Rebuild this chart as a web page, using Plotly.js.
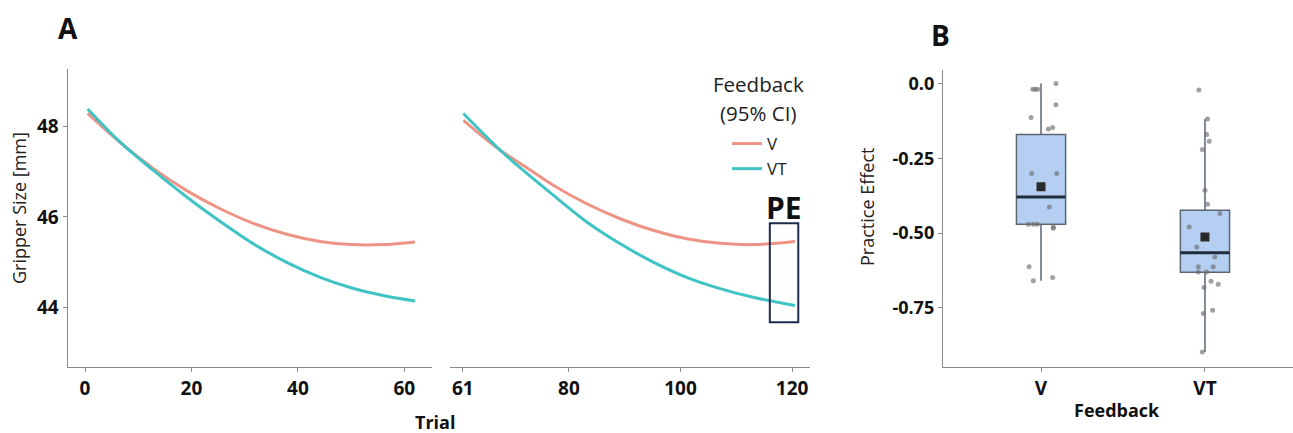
<!DOCTYPE html>
<html>
<head>
<meta charset="utf-8">
<script src="https://cdn.plot.ly/plotly-3.0.1.min.js"></script>
<style>html,body{margin:0;padding:0;background:#fff;}#chart{width:1293px;height:433px;}</style>
</head>
<body>
<div id="chart"></div>
<script>
// ---- Panel A: fitted gripper size over trials ----
const trialsBlock1 = [0.5, 6.6, 12.8, 19.1, 25.4, 31.6, 37.9, 44.2, 50, 56, 62];
const sizeV_block1 = [48.28, 47.64, 47.07, 46.58, 46.18, 45.86, 45.62, 45.46, 45.39, 45.39, 45.45];
const sizeVT_block1 = [48.38, 47.65, 47.03, 46.44, 45.90, 45.41, 45.00, 44.67, 44.44, 44.27, 44.15];

const trialsBlock2 = [61.1, 67.7, 71.3, 77.2, 83.2, 89.2, 95.2, 101.1, 107.1, 113, 120.5];
const sizeV_block2 = [48.13, 47.47, 47.18, 46.70, 46.29, 45.96, 45.70, 45.52, 45.42, 45.39, 45.46];
const sizeVT_block2 = [48.28, 47.47, 47.08, 46.48, 45.89, 45.41, 45.00, 44.67, 44.42, 44.23, 44.05];

const ticksBlock1 = [0, 20, 40, 60];
const ticksBlock2 = [61, 80, 100, 120];
const ticksSize = [44, 46, 48];

// ---- Panel B: practice effect boxplots ----
const groups = ['V', 'VT'];
const groupPos = [0, 1];
const q1 = [-0.471, -0.631];
const median = [-0.380, -0.566];
const q3 = [-0.171, -0.424];
const lowerWhisker = [-0.660, -0.898];
const upperWhisker = [0.0, -0.119];
const meanPE = [-0.345, -0.513];

const peV = [-0.019, -0.019, -0.019, 0.0, -0.071, -0.114, -0.152, -0.147, -0.301, -0.301, -0.413, -0.471, -0.471, -0.471, -0.480, -0.484, -0.613, -0.660, -0.649];
const jitterV = [-0.05, -0.035, -0.02, 0.091, 0.091, -0.061, 0.045, 0.071, -0.057, 0.096, 0.051, -0.077, -0.047, -0.023, 0.075, 0.075, -0.073, -0.047, 0.071];
const peVT = [-0.022, -0.119, -0.171, -0.193, -0.221, -0.357, -0.404, -0.435, -0.48, -0.547, -0.58, -0.613, -0.613, -0.630, -0.630, -0.682, -0.661, -0.671, -0.769, -0.758, -0.898];
const jitterVT = [-0.037, 0.016, 0.01, 0.026, -0.016, 0, 0.016, 0.091, -0.096, -0.05, 0.06, -0.04, 0.05, -0.041, 0.01, -0.006, 0.037, 0.081, -0.01, 0.047, -0.016];
const peTicks = [0, -0.25, -0.5, -0.75];
const peTickText = ['0.0', '-0.25', '-0.50', '-0.75'];

const colV = '#EE9486';
const colVT = '#3FC3C4';
const FONT = 'Open Sans, Noto Sans, sans-serif';
const boxWidth = 0.3;

function curve(x, y, name, color, xa, ya, legend) {
  return {x: x, y: y, type: 'scatter', mode: 'lines', name: name, legendgroup: name,
    line: {color: color, width: 3, shape: 'spline', smoothing: 1}, xaxis: xa, yaxis: ya, showlegend: legend};
}

const traces = [
  curve(trialsBlock1, sizeV_block1, 'V', colV, 'x', 'y', true),
  curve(trialsBlock1, sizeVT_block1, 'VT', colVT, 'x', 'y', true),
  curve(trialsBlock2, sizeV_block2, 'V', colV, 'x2', 'y2', false),
  curve(trialsBlock2, sizeVT_block2, 'VT', colVT, 'x2', 'y2', false),
  // jittered points
  {x: jitterV.map(j => groupPos[0] + j), y: peV, type: 'scatter', mode: 'markers', showlegend: false,
   marker: {color: 'rgba(110,110,110,0.65)', size: 5}, xaxis: 'x3', yaxis: 'y3'},
  {x: jitterVT.map(j => groupPos[1] + j), y: peVT, type: 'scatter', mode: 'markers', showlegend: false,
   marker: {color: 'rgba(110,110,110,0.65)', size: 5}, xaxis: 'x3', yaxis: 'y3'},
  // boxes
  {type: 'box', x: groupPos, q1: q1, median: median, q3: q3, lowerfence: lowerWhisker, upperfence: upperWhisker,
   width: boxWidth, whiskerwidth: 0, boxpoints: false, showlegend: false,
   fillcolor: 'rgba(165,196,240,0.82)', line: {color: '#5b6672', width: 1.5}, xaxis: 'x3', yaxis: 'y3', hoverinfo: 'skip'}
];
// thick median bars
groupPos.forEach((p, i) => {
  traces.push({x: [p - boxWidth / 2, p + boxWidth / 2], y: [median[i], median[i]], type: 'scatter', mode: 'lines',
    line: {color: '#1f2d3a', width: 3}, showlegend: false, xaxis: 'x3', yaxis: 'y3'});
});
traces.push({x: groupPos, y: meanPE, type: 'scatter', mode: 'markers', showlegend: false,
  marker: {symbol: 'square', size: 9, color: '#2a2a2a'}, xaxis: 'x3', yaxis: 'y3'});

const W = 1293, H = 433;
const px = v => v / W, py = v => 1 - v / H;
const axisCommon = {showline: true, linecolor: '#8c8c8c', linewidth: 1.5, ticks: 'outside', ticklen: 4,
  tickcolor: '#8c8c8c', showgrid: false, zeroline: false,
  tickfont: {family: FONT, size: 19, color: '#111', weight: 'bold'}};

const layout = {
  width: W, height: H,
  margin: {l: 0, r: 0, t: 0, b: 0},
  paper_bgcolor: '#fff', plot_bgcolor: 'rgba(0,0,0,0)',
  font: {family: FONT, color: '#222'},
  xaxis: Object.assign({}, axisCommon, {domain: [px(68), px(432)], range: [-3.2, 65.2], tickvals: ticksBlock1, anchor: 'y'}),
  yaxis: Object.assign({}, axisCommon, {domain: [py(366.7), py(69)], range: [42.7, 49.26], tickvals: ticksSize, anchor: 'x'}),
  xaxis2: Object.assign({}, axisCommon, {domain: [px(450), px(810)], range: [58.7, 123.2], tickvals: ticksBlock2, anchor: 'y2'}),
  yaxis2: {domain: [py(366.7), py(69)], range: [42.7, 49.26], anchor: 'x2', showline: false, showticklabels: false,
    ticks: '', showgrid: false, zeroline: false},
  xaxis3: Object.assign({}, axisCommon, {domain: [px(943.3), 1], range: [-0.596, 1.537], tickvals: groupPos, ticktext: groups,
    anchor: 'y3', tickfont: {family: FONT, size: 19, color: '#111', weight: 'bold'}}),
  yaxis3: Object.assign({}, axisCommon, {domain: [py(366.7), py(70)], range: [-0.947, 0.045], tickvals: peTicks, ticktext: peTickText,
    anchor: 'x3', tickfont: {family: FONT, size: 18, color: '#111', weight: 'bold'}}),
  showlegend: true,
  legend: {x: px(727), xanchor: 'left', y: py(126), yanchor: 'top', bgcolor: 'rgba(0,0,0,0)',
    font: {family: FONT, size: 17, color: '#222'}, itemwidth: 30, tracegroupgap: 0},
  shapes: [
    {type: 'rect', xref: 'x2', yref: 'y2', x0: 116.0, x1: 121.1, y0: 43.68, y1: 45.86,
     line: {color: '#1f2b4d', width: 2}, fillcolor: 'rgba(0,0,0,0)'}
  ],
  annotations: [
    {text: 'A', xref: 'paper', yref: 'paper', x: px(68), y: py(28), showarrow: false, xanchor: 'center', yanchor: 'middle',
     font: {family: FONT, size: 28, color: '#111', weight: 'bold'}},
    {text: 'B', xref: 'paper', yref: 'paper', x: px(940), y: py(35), showarrow: false, xanchor: 'center', yanchor: 'middle',
     font: {family: FONT, size: 28, color: '#111', weight: 'bold'}},
    {text: 'Feedback', xref: 'paper', yref: 'paper', x: px(758), y: py(84), showarrow: false, xanchor: 'center', yanchor: 'middle',
     font: {family: FONT, size: 20.5, color: '#222'}},
    {text: '(95% CI)', xref: 'paper', yref: 'paper', x: px(758), y: py(113), showarrow: false, xanchor: 'center', yanchor: 'middle',
     font: {family: FONT, size: 20.5, color: '#222'}},
    {text: 'PE', xref: 'x2', yref: 'paper', x: 118.55, y: py(207), showarrow: false, xanchor: 'center', yanchor: 'middle',
     font: {family: FONT, size: 30, color: '#111', weight: 'bold'}},
    {text: 'Gripper Size [mm]', xref: 'paper', yref: 'paper', x: px(19), y: py(208), textangle: -90, showarrow: false,
     xanchor: 'center', yanchor: 'middle', font: {family: FONT, size: 18, color: '#222'}},
    {text: 'Trial', xref: 'paper', yref: 'paper', x: px(435), y: py(422), showarrow: false,
     xanchor: 'center', yanchor: 'middle', font: {family: FONT, size: 18, color: '#111', weight: 'bold'}},
    {text: 'Practice Effect', xref: 'paper', yref: 'paper', x: px(867), y: py(207), textangle: -90, showarrow: false,
     xanchor: 'center', yanchor: 'middle', font: {family: FONT, size: 18, color: '#222'}},
    {text: 'Feedback', xref: 'paper', yref: 'paper', x: px(1117), y: py(410), showarrow: false,
     xanchor: 'center', yanchor: 'middle', font: {family: FONT, size: 18, color: '#111', weight: 'bold'}}
  ]
};

Plotly.newPlot('chart', traces, layout, {displayModeBar: false, staticPlot: true});
</script>
</body>
</html>
